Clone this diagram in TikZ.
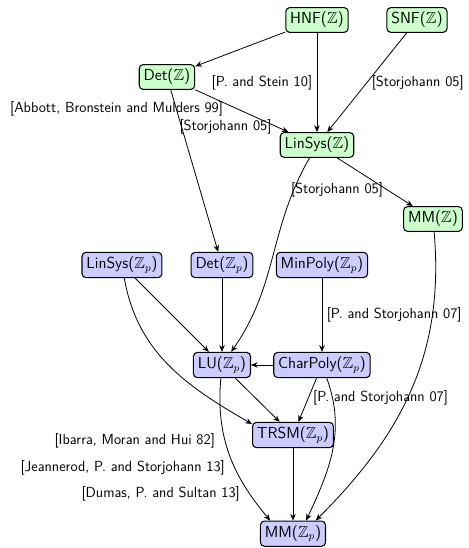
\documentclass[tikz,border=0pt]{standalone}
\usepackage{amsmath}
\usepackage{amssymb}
\usepackage{tikz}
\usetikzlibrary{arrows.meta}

\begin{document}
\begin{tikzpicture}[
    node distance=2.646cm,
    >={Stealth[length=5pt, width=4.2pt]},
    semithick,
    every node/.style={font=\sffamily\fontsize{11}{13}\selectfont},
    zbox/.style={rectangle, draw, thick, rounded corners=3pt, fill=green!20, font=\sffamily\large},
    pbox/.style={rectangle, draw, thick, rounded corners=3pt, fill=blue!20, font=\sffamily\large}
]
\useasboundingbox (-8.387,-13.970) rectangle (4.022,0.529);

\node (hnf) [zbox] {HNF($\mathbb{Z}$)};
\node (snf) [zbox, right of=hnf] {SNF($\mathbb{Z}$)};
\node (detz) [zbox, left of=hnf, xshift=-1.323cm, yshift=-1.508cm] {Det($\mathbb{Z}$)};
\node (linsysz) [zbox, below of=hnf, yshift=-0.661cm] {LinSys($\mathbb{Z}$)};
\node (mmz) [zbox, right of=linsysz, xshift=0.423cm, yshift=-1.958cm] {MM($\mathbb{Z}$)};
\node (minpoly) [pbox, below of=linsysz, xshift=0.132cm, yshift=-0.529cm] {MinPoly($\mathbb{Z}_p$)};
\node (detp) [pbox, left of=minpoly] {Det($\mathbb{Z}_p$)};
\node (linsysp) [pbox, left of=detp] {LinSys($\mathbb{Z}_p$)};
\node (charpoly) [pbox, below of=minpoly] {CharPoly($\mathbb{Z}_p$)};
\node (lu) [pbox, below of=detp] {LU($\mathbb{Z}_p$)};
\node (trsm) [pbox, below of=charpoly, xshift=-0.767cm, yshift=0.794cm] {TRSM($\mathbb{Z}_p$)};
\node (mmp) [pbox, below of=trsm, yshift=1pt] {MM($\mathbb{Z}_p$)};

\draw[->] (hnf) -- (detz);
\draw[->] (hnf) -- node[left, pos=0.5] {[P. and Stein 10]} (linsysz);
\draw[->] (snf) -- node[right, pos=0.5] {[Storjohann 05]} (linsysz);
\draw[->] (detz) -- node[left, pos=0.35, yshift=-3pt] {[Abbott, Bronstein and Mulders 99]}
    node[left, pos=0.87] {[Storjohann 05]} (linsysz);
\draw[->] (detz) -- (detp);
\draw[->] (linsysz) -- node[left, pos=0.67] {[Storjohann 05]} (mmz);
\draw[->] (linsysz) to[out=-120, in=55] (lu);
\draw[->] (linsysp) -- (lu);
\draw[->] (linsysp) to[out=-80, in=150] (trsm.165);
\draw[->] (detp) -- (lu);
\draw[->] (minpoly) -- node[right, pos=0.5] {[P. and Storjohann 07]} (charpoly);
\draw[->] (charpoly) -- (lu);
\draw[->] (charpoly) -- node[right, pos=0.45] {[P. and Storjohann 07]} (trsm);
\draw[->] (charpoly) to[out=-70, in=65] (mmp.45);
\draw[->] (lu) -- (trsm);
\draw[->] (lu) to[out=-95, in=130]
    node[left=4pt, pos=0.4] {[Ibarra, Moran and Hui 82]}
    node[left=4pt, pos=0.6] {[Jeannerod, P. and Storjohann 13]}
    node[left=4pt, pos=0.8] {[Dumas, P. and Sultan 13]} (mmp.150);
\draw[->] (trsm) -- (mmp);
\draw[->] (mmz) to[out=-85, in=45] (mmp.30);
\end{tikzpicture}
\end{document}
